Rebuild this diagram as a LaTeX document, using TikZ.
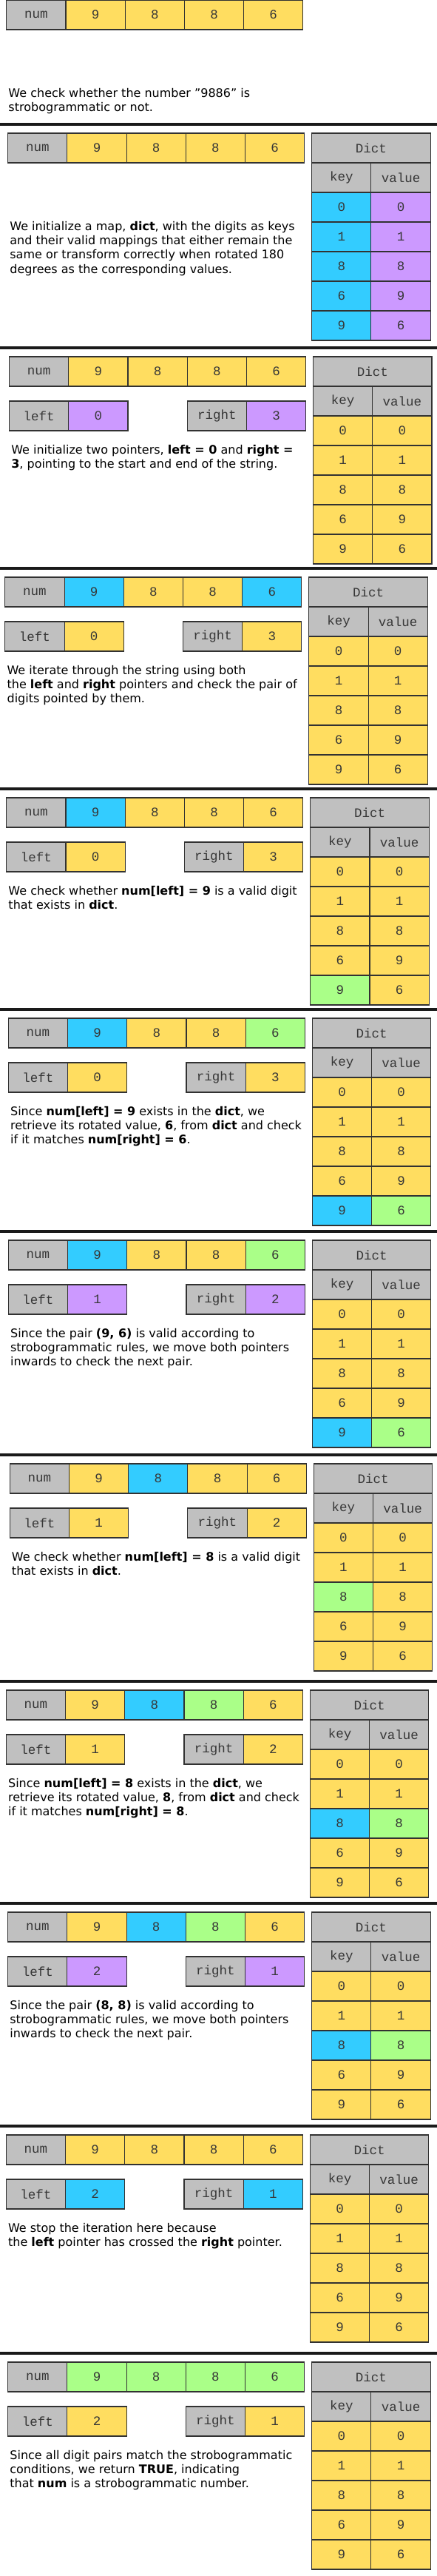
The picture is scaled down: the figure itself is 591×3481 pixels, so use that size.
\documentclass[tikz,border=0pt]{standalone}
\usepackage{fontspec}
\setmainfont{DejaVu Sans}
\newfontfamily\cellmono{Liberation Mono}
\newcommand\cellfont{\cellmono\fontsize{17.5}{20}\selectfont}
\newcommand\descfont{\fontsize{16}{19.3}\selectfont}
\definecolor{cGray}{RGB}{192,192,192}
\definecolor{cY}{RGB}{255,221,96}
\definecolor{cC}{RGB}{51,204,255}
\definecolor{cP}{RGB}{204,153,255}
\definecolor{cG}{RGB}{170,255,136}
\definecolor{cline}{RGB}{50,50,50}
\definecolor{ctext}{RGB}{55,55,55}
\definecolor{csep}{RGB}{26,26,26}
\tikzset{
  cellb/.style={draw=cline, line width=1.1pt, minimum width=80.2pt, minimum height=40pt,
    inner sep=0pt, outer sep=0pt, anchor=north west, font=\cellfont, text=ctext},
  lbl/.style={cellb, fill=cGray},
  hdr/.style={cellb, fill=cGray, minimum width=160.4pt},
  desc/.style={anchor=north west, inner sep=0pt, align=left, font=\descfont, text=black},
  sepline/.style={line width=3.3pt, draw=csep}
}
% #1 id, #2 x0, #3 S, #4 list colour/digit
\newcommand{\numrow}[4]{%
  \node[lbl] (#1-num) at ({#2},{#3+12}) {num};
  \edef\tmplist{#4}%
  \foreach \c/\d [count=\i] in \tmplist {
    \node[cellb, fill=\c] (#1-a\i) at ({#2+80.2*\i},{#3+12}) {\d};
  }
}
% #1 id, #2 x0, #3 S, #4 left colour, #5 left value, #6 right colour, #7 right value
\newcommand{\ptrs}[7]{%
  \node[lbl] (#1-left) at ({#2},{#3+72}) {left};
  \node[cellb, fill=#4] (#1-lv) at ({#2+80.2},{#3+72}) {#5};
  \node[lbl] (#1-right) at ({#2+240.6},{#3+72}) {right};
  \node[cellb, fill=#6] (#1-rv) at ({#2+320.8},{#3+72}) {#7};
}
% #1 id, #2 x0, #3 S, #4 list keycolour/valuecolour/key/value
\newcommand{\dictbox}[4]{%
  \node[hdr] (#1-dict) at ({#2+411},{#3+12}) {Dict};
  \node[lbl] (#1-key) at ({#2+411},{#3+52}) {key};
  \node[lbl] (#1-val) at ({#2+491.2},{#3+52}) {value};
  \edef\tmplist{#4}%
  \foreach \kc/\vc/\k/\v [count=\i] in \tmplist {
    \node[cellb, fill=\kc] (#1-k\i) at ({#2+411},{#3+52+40*\i}) {\k};
    \node[cellb, fill=\vc] (#1-v\i) at ({#2+491.2},{#3+52+40*\i}) {\v};
  }
}
\newcommand{\desctext}[4]{%
  \node[desc] (#1-text) at ({#2+2.5},{#3+131}) {#4};
}
\newcommand{\sepat}[2]{%
  \coordinate (#1-sl) at (0,#2);
  \coordinate (#1-sr) at (591,#2);
  \draw[sepline] (#1-sl) -- (#1-sr);
}
\def\DY{cY/cY/0/0,cY/cY/1/1,cY/cY/8/8,cY/cY/6/9,cY/cY/9/6}
\def\AY{cY/9,cY/8,cY/8,cY/6}
\begin{document}
\begin{tikzpicture}[x=1pt,y=-1pt]
\fill[white] (0,0) rectangle (591,3481);
\useasboundingbox (0,0) rectangle (591,3481);

% Panel 1
\numrow{p1}{8.8}{-12}{\AY}
\desctext{p1}{8.8}{-12}{We check whether the number "9886" is\\strobogrammatic or not.}

% Panel 2
\sepat{p2}{168}
\numrow{p2}{10.7}{168}{\AY}
\dictbox{p2}{10.7}{168}{cC/cP/0/0,cC/cP/1/1,cC/cP/8/8,cC/cP/6/9,cC/cP/9/6}
\desctext{p2}{10.7}{168}{We initialize a map, \textbf{dict}, with the digits as keys\\and their valid mappings that either remain the\\same or transform correctly when rotated 180\\degrees as the corresponding values.}

% Panel 3
\sepat{p3}{470}
\numrow{p3}{12.6}{470}{\AY}
\ptrs{p3}{12.6}{470}{cP}{0}{cP}{3}
\dictbox{p3}{12.6}{470}{\DY}
\desctext{p3}{12.6}{470}{We initialize two pointers, \textbf{left = 0} and \textbf{right =}\\\textbf{3}, pointing to the start and end of the string.}

% Panel 4
\sepat{p4}{768}
\numrow{p4}{6.9}{768}{cC/9,cY/8,cY/8,cC/6}
\ptrs{p4}{6.9}{768}{cY}{0}{cY}{3}
\dictbox{p4}{6.9}{768}{\DY}
\desctext{p4}{6.9}{768}{We iterate through the string using both\\the \textbf{left} and \textbf{right} pointers and check the pair of\\digits pointed by them.}

% Panel 5
\sepat{p5}{1066}
\numrow{p5}{8.8}{1066}{cC/9,cY/8,cY/8,cY/6}
\ptrs{p5}{8.8}{1066}{cY}{0}{cY}{3}
\dictbox{p5}{8.8}{1066}{cY/cY/0/0,cY/cY/1/1,cY/cY/8/8,cY/cY/6/9,cG/cY/9/6}
\desctext{p5}{8.8}{1066}{We check whether \textbf{num[left] = 9} is a valid digit\\that exists in \textbf{dict}.}

% Panel 6
\sepat{p6}{1364}
\numrow{p6}{11.4}{1364}{cC/9,cY/8,cY/8,cG/6}
\ptrs{p6}{11.4}{1364}{cY}{0}{cY}{3}
\dictbox{p6}{11.4}{1364}{cY/cY/0/0,cY/cY/1/1,cY/cY/8/8,cY/cY/6/9,cC/cG/9/6}
\desctext{p6}{11.4}{1364}{Since \textbf{num[left] = 9} exists in the \textbf{dict}, we\\retrieve its rotated value, \textbf{6}, from \textbf{dict} and check\\if it matches \textbf{num[right] = 6}.}

% Panel 7
\sepat{p7}{1664}
\numrow{p7}{11.4}{1664}{cC/9,cY/8,cY/8,cG/6}
\ptrs{p7}{11.4}{1664}{cP}{1}{cP}{2}
\dictbox{p7}{11.4}{1664}{cY/cY/0/0,cY/cY/1/1,cY/cY/8/8,cY/cY/6/9,cC/cG/9/6}
\desctext{p7}{11.4}{1664}{Since the pair \textbf{(9, 6)} is valid according to\\strobogrammatic rules, we move both pointers\\inwards to check the next pair.}

% Panel 8
\sepat{p8}{1966}
\numrow{p8}{13.3}{1966}{cY/9,cC/8,cY/8,cY/6}
\ptrs{p8}{13.3}{1966}{cY}{1}{cY}{2}
\dictbox{p8}{13.3}{1966}{cY/cY/0/0,cY/cY/1/1,cG/cY/8/8,cY/cY/6/9,cY/cY/9/6}
\desctext{p8}{13.3}{1966}{We check whether \textbf{num[left] = 8} is a valid digit\\that exists in \textbf{dict}.}

% Panel 9
\sepat{p9}{2272}
\numrow{p9}{8.4}{2272}{cY/9,cC/8,cG/8,cY/6}
\ptrs{p9}{8.4}{2272}{cY}{1}{cY}{2}
\dictbox{p9}{8.4}{2272}{cY/cY/0/0,cY/cY/1/1,cC/cG/8/8,cY/cY/6/9,cY/cY/9/6}
\desctext{p9}{8.4}{2272}{Since \textbf{num[left] = 8} exists in the \textbf{dict}, we\\retrieve its rotated value, \textbf{8}, from \textbf{dict} and check\\if it matches \textbf{num[right] = 8}.}

% Panel 10
\sepat{p10}{2572}
\numrow{p10}{10.7}{2572}{cY/9,cC/8,cG/8,cY/6}
\ptrs{p10}{10.7}{2572}{cP}{2}{cP}{1}
\dictbox{p10}{10.7}{2572}{cY/cY/0/0,cY/cY/1/1,cC/cG/8/8,cY/cY/6/9,cY/cY/9/6}
\desctext{p10}{10.7}{2572}{Since the pair \textbf{(8, 8)} is valid according to\\strobogrammatic rules, we move both pointers\\inwards to check the next pair.}

% Panel 11
\sepat{p11}{2873}
\numrow{p11}{8.4}{2873}{\AY}
\ptrs{p11}{8.4}{2873}{cC}{2}{cC}{1}
\dictbox{p11}{8.4}{2873}{\DY}
\desctext{p11}{8.4}{2873}{We stop the iteration here because\\the \textbf{left} pointer has crossed the \textbf{right} pointer.}

% Panel 12
\sepat{p12}{3180}
\numrow{p12}{10.7}{3180}{cG/9,cG/8,cG/8,cG/6}
\ptrs{p12}{10.7}{3180}{cY}{2}{cY}{1}
\dictbox{p12}{10.7}{3180}{\DY}
\desctext{p12}{10.7}{3180}{Since all digit pairs match the strobogrammatic\\conditions, we return \textbf{TRUE}, indicating\\that \textbf{num} is a strobogrammatic number.}
\end{tikzpicture}
\end{document}
